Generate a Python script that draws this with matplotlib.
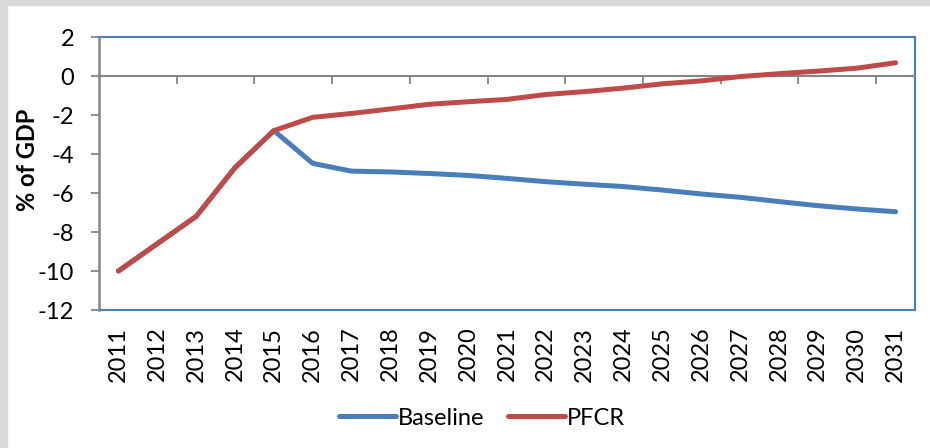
import numpy as np
import matplotlib
matplotlib.use("Agg")
import matplotlib.pyplot as plt
from matplotlib.patches import Rectangle

plt.rcParams['font.family'] = ['Lato', 'DejaVu Sans']
plt.rcParams['axes.unicode_minus'] = False

# Data (% of GDP)
years = [str(y) for y in range(2011, 2032)]
baseline = [-10.0, -8.6, -7.2, -4.7, -2.8, -4.48, -4.88, -4.92, -5.0, -5.1, -5.25,
            -5.42, -5.55, -5.67, -5.85, -6.05, -6.22, -6.44, -6.65, -6.82, -6.96]
pfcr = [-10.0, -8.6, -7.2, -4.7, -2.8, -2.12, -1.92, -1.69, -1.45, -1.32, -1.2,
        -0.95, -0.8, -0.62, -0.4, -0.25, -0.03, 0.12, 0.25, 0.4, 0.68]

blue = '#4a7ebb'
red = '#be4b48'
grey = '#868686'

fig = plt.figure(figsize=(9.3, 4.48), dpi=100, facecolor='white')
# light grey frame from the surrounding page
fig.patches.append(Rectangle((0, 1 - 5 / 448), 1, 5 / 448, transform=fig.transFigure,
                             color='#d9d9d9', zorder=0))
fig.patches.append(Rectangle((0, 0), 7 / 930, 1, transform=fig.transFigure,
                             color='#d9d9d9', zorder=0))

ax = fig.add_axes([99 / 930, 1 - 310 / 448, (915 - 99) / 930, (310 - 37) / 448])
x = np.arange(len(years))

ax.plot(x, baseline, color=blue, lw=3.6, solid_capstyle='round', label='Baseline', zorder=3)
ax.plot(x, pfcr, color=red, lw=3.6, solid_capstyle='round', label='PFCR', zorder=4)

ax.set_xlim(-0.5, len(years) - 0.5)
ax.set_ylim(-12, 2)
ax.set_yticks(np.arange(-12, 3, 2))
ax.tick_params(axis='y', direction='out', length=6, width=1.3, color=grey,
               pad=12, labelsize=17)

# category axis crosses at zero, tick marks every second category boundary
ax.spines['bottom'].set_position(('data', 0))
ax.spines['bottom'].set_color(grey)
ax.spines['bottom'].set_linewidth(1.5)
ax.set_xticks([])
ax.set_xticks(np.arange(1.5, len(years) - 0.5, 2), minor=True)
ax.tick_params(axis='x', which='minor', direction='out', length=6, width=1.3, color=grey)

for s in ['top', 'right']:
    ax.spines[s].set_color(blue)
    ax.spines[s].set_linewidth(1.5)
ax.spines['left'].set_color(grey)
ax.spines['left'].set_linewidth(1.8)
ax.spines['left'].set_zorder(5)

sec = ax.secondary_xaxis('bottom')
sec.set_xticks(x, labels=years, rotation=90)
sec.tick_params(length=0, pad=12, labelsize=17)
sec.spines['bottom'].set_color(blue)
sec.spines['bottom'].set_linewidth(1.5)

ax.set_ylabel('% of GDP', fontsize=17, fontweight='bold')
ax.yaxis.set_label_coords(-0.074, 0.55)

fig.legend(loc='center', bbox_to_anchor=(482 / 930, 1 - 418 / 448), ncol=2,
           frameon=False, fontsize=17, handlelength=2.4, handletextpad=0.1,
           columnspacing=1.0)

fig.savefig('out.png', dpi=100, facecolor='white')
